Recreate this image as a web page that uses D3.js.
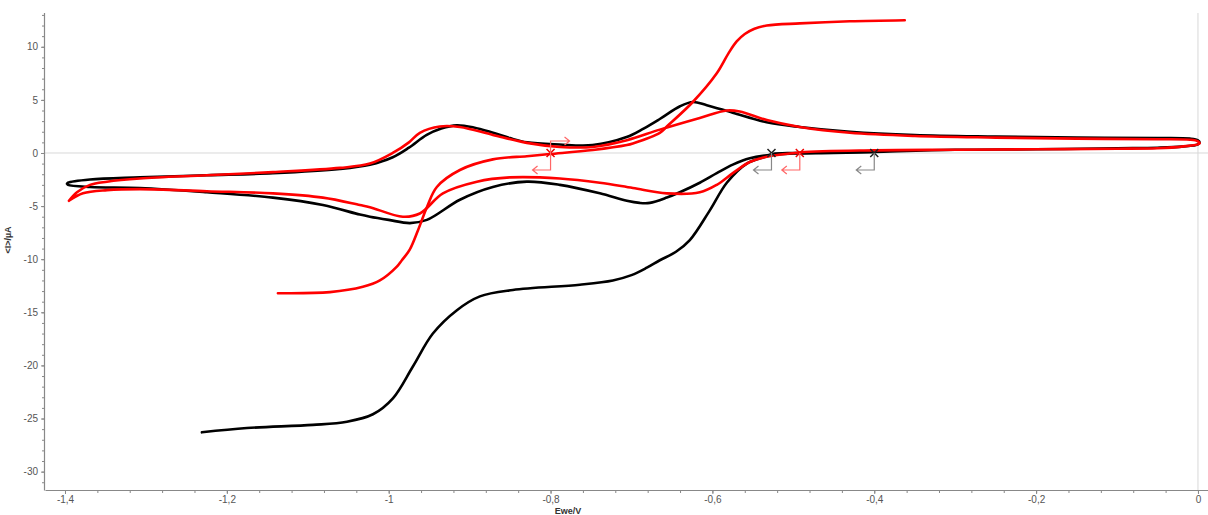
<!DOCTYPE html>
<html><head><meta charset="utf-8">
<script src="https://cdn.jsdelivr.net/npm/d3@7"></script>
<style>
body{margin:0;background:#fff;}
svg{display:block;font-family:Arial,"Liberation Sans",sans-serif;}
</style></head>
<body>
<svg id="c" width="1208" height="515"></svg>
<script>
// ---- data (Ewe/V, <I>/µA) ----
const blackCV = [
[-1.3975,-2.9],[-1.3963,-2.8],[-1.3691,-2.5],[-1.3074,-2.3],[-1.2246,-2.1],[-1.1431,-1.9],[-1.0603,-1.5],
[-1.0232,-1.1],[-0.995,-0.4],[-0.975,0.5],[-0.953,1.7],[-0.935,2.3],[-0.916,2.6],[-0.895,2.4],[-0.871,1.9],
[-0.85,1.4],[-0.829,1.0],[-0.789,0.8],[-0.748,0.75],[-0.706,1.5],[-0.685,2.3],[-0.665,3.2],[-0.640,4.4],
[-0.624,4.8],[-0.607,4.5],[-0.575,3.8],[-0.533,2.9],[-0.492,2.45],[-0.430,2.0],[-0.35,1.7],[-0.25,1.55],
[-0.15,1.45],[-0.05,1.4],[-0.01,1.35],[0.0,1.2],[0.002,1.0],[0.0,0.8],[-0.02,0.6],[-0.05,0.5],[-0.1,0.45],
[-0.2,0.35],[-0.3,0.3],[-0.40,0.1],[-0.45,0.0],[-0.5,-0.05],[-0.5254,-0.15],[-0.5538,-0.5],[-0.5748,-1.1],
[-0.5946,-1.9],[-0.6156,-2.8],[-0.6403,-3.7],[-0.6563,-4.2],[-0.6773,-4.7],[-0.690,-4.7],[-0.7057,-4.5],
[-0.7391,-3.8],[-0.7885,-3.0],[-0.8293,-2.7],[-0.8713,-3.2],[-0.9120,-4.4],[-0.9528,-6.3],
[-0.9738,-6.6],[-1.0,-6.3],[-1.0232,-6.0],[-1.0356,-5.8],[-1.0813,-4.9],[-1.1431,-4.2],[-1.2246,-3.7],
[-1.3074,-3.3],[-1.3691,-3.2],[-1.3963,-3.0],[-1.3975,-2.9]
];
const redCV = [
[-1.3951,-4.5],[-1.3852,-3.7],[-1.3691,-3.0],[-1.3481,-2.7],[-1.3074,-2.4],[-1.2246,-2.1],[-1.1431,-1.8],
[-1.0603,-1.4],[-1.0232,-1.0],[-0.995,0.0],[-0.975,1.0],[-0.9615,1.9],[-0.9368,2.5],[-0.9120,2.45],
[-0.8713,1.7],[-0.8293,0.95],[-0.7885,0.57],[-0.7477,0.57],[-0.7057,1.2],[-0.665,2.2],[-0.6156,3.3],
[-0.5822,4.0],[-0.5662,3.9],[-0.5328,3.1],[-0.4920,2.45],[-0.4303,1.9],[-0.35,1.6],[-0.25,1.45],[-0.15,1.35],
[-0.05,1.3],[-0.01,1.25],[0.0,1.1],[0.002,0.9],[-0.02,0.6],[-0.05,0.45],[-0.1,0.4],[-0.2,0.35],[-0.3,0.3],
[-0.4,0.25],[-0.492,0.05],[-0.5328,-0.35],[-0.5538,-0.85],[-0.5748,-1.9],[-0.5946,-3.0],[-0.6156,-3.7],
[-0.6563,-3.8],[-0.6983,-3.3],[-0.7391,-2.8],[-0.7885,-2.4],[-0.8503,-2.3],[-0.8910,-2.7],[-0.9330,-3.8],
[-0.9615,-5.7],[-0.9825,-6.0],[-1.0232,-5.1],[-1.0356,-4.9],[-1.0813,-4.2],[-1.1431,-3.8],[-1.2246,-3.6],
[-1.3074,-3.4],[-1.3481,-3.5],[-1.3778,-3.8],[-1.3951,-4.5]
];
const redLSV = [
[-1.1369,-13.2],[-1.0726,-13.1],[-1.0319,-12.6],[-1.0109,-12.0],[-0.9899,-10.7],[-0.9837,-10.1],[-0.974,-9.1],
[-0.9639,-7.3],[-0.9528,-5.1],[-0.9405,-3.2],[-0.9120,-1.6],[-0.8713,-0.6],[-0.8293,-0.3],[-0.8009,-0.1],
[-0.7477,0.28],[-0.7057,0.75],[-0.6983,0.9],[-0.665,1.9],[-0.6563,2.5],[-0.6242,4.8],[-0.5946,7.5],
[-0.5800,9.4],[-0.5700,10.5],[-0.5600,11.2],[-0.5480,11.7],[-0.5328,12.0],[-0.4920,12.2],[-0.4303,12.4],[-0.3623,12.5]
];
const blackLSV = [
[-1.2308,-26.3],[-1.1752,-25.9],[-1.0936,-25.6],[-1.0516,-25.3],[-1.0195,-24.6],[-0.9948,-23.1],[-0.9701,-20.1],
[-0.9454,-17.0],[-0.9157,-14.8],[-0.8873,-13.5],[-0.8466,-12.9],[-0.7638,-12.4],[-0.7230,-12.0],[-0.7000,-11.5],
[-0.6810,-10.8],[-0.6650,-10.1],[-0.6450,-9.3],[-0.6279,-8.2],[-0.6032,-5.4],[-0.5822,-2.8],[-0.5575,-1.0],
[-0.5328,-0.3],[-0.5254,-0.1],[-0.50,0.0],[-0.45,0.05],[-0.4019,0.1]
];
// cursor markers: [V, I, colour key, arrow type]
const markers = [
[-0.8,0,"red","both"],[-0.527,0,"black","left"],[-0.492,0,"red","left"],[-0.4,0,"black","left"]
];
const xTicks = [-1.4,-1.2,-1.0,-0.8,-0.6,-0.4,-0.2,0];
const yTicks = [-30,-25,-20,-15,-10,-5,0,5,10];

// ---- layout ----
const svg = d3.select("#c");
const x = d3.scaleLinear().domain([-1.4247,0.0124]).range([45,1208]);
const y = d3.scaleLinear().domain([-31.73,13.18]).range([490,13]);
const fmt = v => String(Math.round(v*10)/10).replace(".",",");

// zero lines
svg.append("line").attr("x1",45).attr("x2",1208).attr("y1",y(0)).attr("y2",y(0))
  .attr("stroke","#d8d8d8").attr("stroke-width",1);
svg.append("line").attr("x1",x(0)).attr("x2",x(0)).attr("y1",13).attr("y2",490)
  .attr("stroke","#d8d8d8").attr("stroke-width",1);

// axes
const xMinor = d3.range(-1.40,0.001,0.04).map(v=>Math.round(v*100)/100);
const yMinor = d3.range(-31,14,1);
const gx = svg.append("g").attr("transform","translate(0,490)");
gx.call(d3.axisBottom(x).tickValues(xMinor).tickSize(3).tickFormat(""));
gx.call(g=>g.select(".domain").remove());
const gx2 = svg.append("g").attr("transform","translate(0,490)")
  .call(d3.axisBottom(x).tickValues(xTicks).tickSize(4).tickSizeOuter(0).tickFormat(fmt));
gx2.select(".domain").attr("d","M45.5,0.5H1208");
const gy = svg.append("g").attr("transform","translate(45,0)");
gy.call(d3.axisLeft(y).tickValues(yMinor).tickSize(3).tickFormat(""));
gy.call(g=>g.select(".domain").remove());
const gy2 = svg.append("g").attr("transform","translate(45,0)")
  .call(d3.axisLeft(y).tickValues(yTicks).tickSize(4).tickSizeOuter(0).tickFormat(fmt));
gy2.select(".domain").attr("d","M-0.5,13V490.5");
svg.selectAll(".tick line").attr("stroke","#888");
svg.selectAll(".domain").attr("stroke","#888").attr("stroke-width",1.2);
svg.selectAll(".tick text").attr("fill","#555").attr("font-size",10).attr("font-family","Arial,'Liberation Sans',sans-serif");
gx2.selectAll(".tick text").attr("y",6).attr("dy","0.71em");

// axis titles
svg.append("text").attr("x",568).attr("y",514).attr("text-anchor","middle")
  .attr("font-size",9).attr("font-weight","bold").attr("fill","#333").text("Ewe/V");
svg.append("text").attr("transform","translate(11,240) rotate(-90)").attr("text-anchor","middle")
  .attr("font-size",9).attr("font-weight","bold").attr("fill","#333").text("<I>/µA");

// curves
const line = d3.line().x(d=>x(d[0])).y(d=>y(d[1])).curve(d3.curveCatmullRom.alpha(0.5));
const series = [[blackLSV,"#000"],[blackCV,"#000"],[redCV,"#f00"],[redLSV,"#f00"]];
series.forEach(([d,c])=>{
  svg.append("path").datum(d).attr("d",line).attr("fill","none").attr("stroke",c)
    .attr("stroke-width",2.6).attr("stroke-linejoin","round").attr("stroke-linecap","round");
});

// cursors
markers.forEach(([v,i,col,type])=>{
  const px = x(v), py = y(i);
  const xc = col==="red" ? "#e00" : "#222";
  const ac = col==="red" ? "#f66" : "#888";
  const g = svg.append("g");
  g.append("path").attr("d",`M${px-4},${py-4}L${px+4},${py+4}M${px-4},${py+4}L${px+4},${py-4}`)
    .attr("stroke",xc).attr("stroke-width",1.5);
  g.append("path").attr("d",`M${px},${py}V${py+17}H${px-18}M${px-13},${py+13}L${px-18},${py+17}L${px-13},${py+21}`)
    .attr("fill","none").attr("stroke",ac).attr("stroke-width",1.2);
  if(type==="both"){
    g.append("path").attr("d",`M${px},${py}V${py-12}H${px+19}M${px+14},${py-16}L${px+19},${py-12}L${px+14},${py-8}`)
      .attr("fill","none").attr("stroke",ac).attr("stroke-width",1.2);
  }
});
</script>
</body></html>
